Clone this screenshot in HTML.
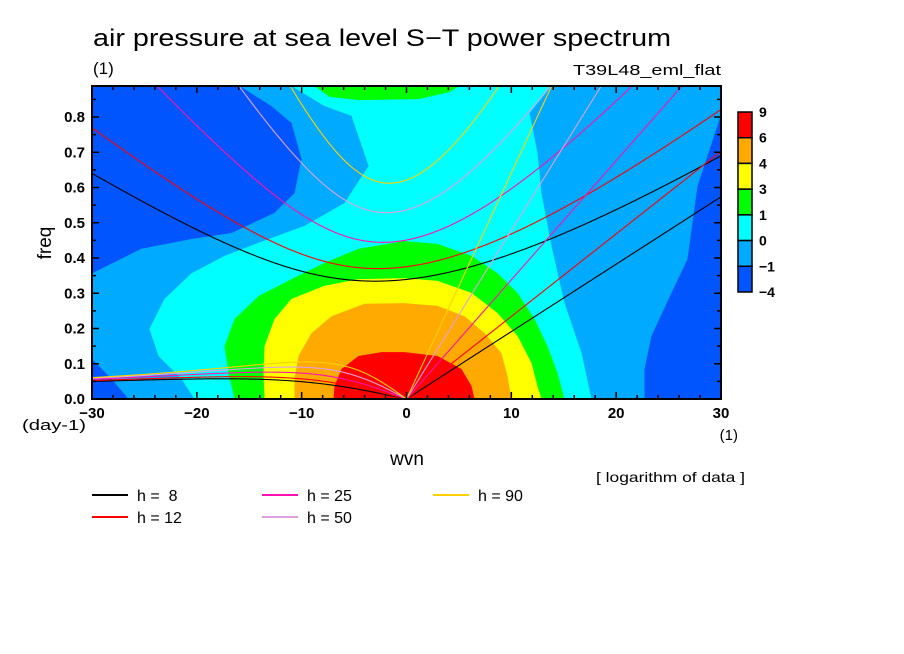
<!DOCTYPE html>
<html><head><meta charset="utf-8"><style>
body{margin:0;background:#fff}
svg{display:block;font-family:"Liberation Sans",sans-serif}
</style></head><body>
<svg id="chart" width="904" height="654" viewBox="0 0 904 654" xmlns="http://www.w3.org/2000/svg">
<rect width="904" height="654" fill="#fff"/>
<text x="93" y="46" font-size="24" textLength="578" lengthAdjust="spacingAndGlyphs">air pressure at sea level S−T power spectrum</text>
<text x="93" y="74" font-size="17">(1)</text>
<text x="721" y="75" font-size="15" text-anchor="end" textLength="148" lengthAdjust="spacingAndGlyphs">T39L48_eml_flat</text>
<g id="plot"></g>
<g id="axes"></g>
<text x="45" y="243" font-size="19" text-anchor="middle" transform="rotate(-90 45 243)" dy="6">freq</text>
<text x="22" y="430" font-size="15" textLength="64" lengthAdjust="spacingAndGlyphs">(day-1)</text>
<text x="738" y="440" font-size="15" text-anchor="end">(1)</text>
<text x="407" y="465" font-size="19" text-anchor="middle">wvn</text>
<text x="745" y="482" font-size="14" text-anchor="end" textLength="149" lengthAdjust="spacingAndGlyphs">[ logarithm of data ]</text>
<g id="legend"></g>
<g id="cbar"></g>
</svg>
<script>
const NS="http://www.w3.org/2000/svg";
// ---- data ----
const xTicks=[-30,-20,-10,0,10,20,30];
const yTicks=[0.0,0.1,0.2,0.3,0.4,0.5,0.6,0.7,0.8];
const depths=[8,12,25,50,90];
const depthColors=["#000000","#ff0000","#ff10b0","#e0a0e0","#ffd000"];
const levelLabels=["9","6","4","3","1","0","−1","−4"];
const levelColors=["#ff0000","#ffaa00","#ffff00","#00ff00","#00ffff","#00aaff","#0055ff"];
// contour regions [wvn,freq]
const darkUpperLeft=[[-30,0.888],[-15.93,0.888],[-12.88,0.831],[-10.97,0.783],[-10.02,0.681],[-10.68,0.584],[-12.59,0.528],[-16.69,0.471],[-20.51,0.454],[-25.28,0.426],[-30,0.357]];
const darkLowerLeft=[[-30,0.113],[-28.14,0.057],[-26.52,0],[-30,0]];
const darkRight=[[30,0.806],[27.76,0.604],[26.8,0.397],[25.28,0.301],[23.37,0.179],[22.7,0.085],[22.7,0],[30,0]];
const cyanRegion=[[-10.97,0.888],[13.83,0.888],[11.73,0.811],[12.5,0.698],[12.88,0.584],[13.83,0.434],[15.07,0.272],[16.7,0.130],[17.65,0],[-20.22,0],[-21.46,0.057],[-23.66,0.122],[-24.52,0.199],[-23.08,0.284],[-20.51,0.357],[-17.36,0.406],[-14.12,0.443],[-9.73,0.491],[-5.91,0.556],[-3.62,0.661],[-5.25,0.803],[-7.82,0.831]];
const greenTop=[[-8.78,0.888],[-7.35,0.857],[-4.48,0.848],[1.24,0.851],[4.1,0.871],[5.06,0.888]];
const greenRegion=[[-16.41,0],[-16.98,0.074],[-17.36,0.150],[-16.41,0.227],[-14.12,0.292],[-10.97,0.340],[-7.82,0.386],[-4.58,0.426],[-0.19,0.448],[2.96,0.440],[6.2,0.406],[8.68,0.357],[10.59,0.301],[12.21,0.227],[13.45,0.150],[14.4,0.074],[15.07,0]];
const yellowRegion=[[-13.55,0],[-13.64,0.074],[-13.55,0.150],[-12.59,0.227],[-10.97,0.284],[-7.82,0.321],[-4.58,0.340],[-0.19,0.343],[2.96,0.335],[6.2,0.301],[8.68,0.244],[10.59,0.179],[11.92,0.102],[12.5,0.037],[12.88,0]];
const orangeRegion=[[-10.68,0],[-10.68,0.057],[-10.3,0.122],[-9.06,0.187],[-7.15,0.235],[-4.01,0.270],[-0.19,0.272],[2.96,0.264],[5.53,0.235],[7.44,0.187],[9.06,0.130],[9.63,0.065],[10.02,0]];
const redRegion=[[-6.96,0],[-6.87,0.037],[-6.2,0.085],[-4.58,0.122],[-2.38,0.133],[-0.19,0.133],[2.96,0.122],[5.25,0.085],[6.2,0.037],[6.49,0]];

const X0=92,X1=721,Y0=399,Y1=86,XMIN=-30,XMAX=30,YMAX=(399-86)/352.5;
const sx=v=>X0+(v-XMIN)/(XMAX-XMIN)*(X1-X0);
const sy=v=>Y0-v/YMAX*(Y0-Y1);
const plot=document.getElementById('plot');
const axes=document.getElementById('axes');
function mk(tag,attrs,parent){const e=document.createElementNS(NS,tag);for(const k in attrs)e.setAttribute(k,attrs[k]);parent.appendChild(e);return e;}

const defs=mk('defs',{},plot);
const cp=mk('clipPath',{id:'pc'},defs);
mk('rect',{x:X0,y:Y1,width:X1-X0,height:Y0-Y1},cp);
const g=mk('g',{'clip-path':'url(#pc)'},plot);

const bg=mk('rect',{x:X0,y:Y1,width:X1-X0,height:Y0-Y1,fill:levelColors[5]},g);


function poly(pts,fill,name){
  const p=mk('polygon',{points:pts.map(q=>sx(q[0]).toFixed(1)+','+sy(q[1]).toFixed(1)).join(' '),fill:fill},g);
  
  
}
poly(darkUpperLeft,levelColors[6],'region-below-minus1-upper-left');
poly(darkLowerLeft,levelColors[6],'region-below-minus1-lower-left');
poly(darkRight,levelColors[6],'region-below-minus1-right');
poly(cyanRegion,levelColors[4],'region-0-to-1');
poly(greenTop,levelColors[3],'region-1-to-3-top');
poly(greenRegion,levelColors[3],'region-1-to-3');
poly(yellowRegion,levelColors[2],'region-3-to-4');
poly(orangeRegion,levelColors[1],'region-4-to-6');
poly(redRegion,levelColors[0],'region-6-to-9');

const a=6.371e6,beta=2*7.292e-5/a,gr=9.81;
function roots(s,c){
  const k=s/a,A=c*c*k*k+3*beta*c,q=-beta*k*c*c,p=-A;
  const m=2*Math.sqrt(-p/3);
  let arg=3*q/(2*p)*Math.sqrt(-3/p);arg=Math.max(-1,Math.min(1,arg));
  const th=Math.acos(arg)/3;
  const r=[0,1,2].map(j=>m*Math.cos(th-2*Math.PI*j/3)).sort((u,v)=>v-u);
  return r.map(w=>w*86400/(2*Math.PI));
}
function line(pts,col,name){
  const p=mk('polyline',{points:pts.map(q=>sx(q[0]).toFixed(2)+','+sy(q[1]).toFixed(2)).join(' '),fill:'none',stroke:col,'stroke-width':1.1},g);
  
  
}
depths.forEach((h,i)=>{
  const c=Math.sqrt(gr*h);
  const ig=[],er=[],kv=[];
  for(let n=-300;n<=300;n++){
    const s=n/10,r=roots(s,c);
    ig.push([s,r[0]]);
    if(s<=0)er.push([s,Math.max(0,r[1])]);
    if(s>=0)kv.push([s,c*(s/a)*86400/(2*Math.PI)]);
  }
  line(ig,depthColors[i],'gravity-wave-curve-h'+h);
  line(er,depthColors[i],'rossby-wave-curve-h'+h);
  line(kv,depthColors[i],'kelvin-wave-curve-h'+h);
});

const fr=mk('rect',{x:X0,y:Y1,width:X1-X0,height:Y0-Y1,fill:'none',stroke:'#000','stroke-width':2},axes);


for(let v=-30;v<=30;v+=2){
  const L=(v%10===0)?7:4,x=sx(v);
  mk('line',{x1:x,y1:Y0,x2:x,y2:Y0-L,stroke:'#000','stroke-width':1.5},axes);
  mk('line',{x1:x,y1:Y1,x2:x,y2:Y1+L,stroke:'#000','stroke-width':1.5},axes);
}
for(let i=0;i<=17;i++){
  const v=i*0.05,L=(i%2===0)?7:4,y=sy(v);
  mk('line',{x1:X0,y1:y,x2:X0+L,y2:y,stroke:'#000','stroke-width':1.5},axes);
  mk('line',{x1:X1,y1:y,x2:X1-L,y2:y,stroke:'#000','stroke-width':1.5},axes);
}
xTicks.forEach(v=>{
  const t=mk('text',{x:sx(v),y:418,'font-size':15,'text-anchor':'middle','font-weight':'bold'},axes);
  t.textContent=v<0?'−'+Math.abs(v):String(v);
  
  
});
yTicks.forEach(v=>{
  const t=mk('text',{x:85,y:sy(v)+5,'font-size':15,'text-anchor':'end','font-weight':'bold'},axes);
  t.textContent=v.toFixed(1);
  
  
});

const leg=document.getElementById('legend');
const legPos=[[92,495],[92,517],[262,495],[262,517],[433,495]];
depths.forEach((h,i)=>{
  const [x,y]=legPos[i];
  const ln=mk('line',{x1:x,y1:y,x2:x+36,y2:y,stroke:depthColors[i],'stroke-width':2},leg);
  
  
  const t=mk('text',{x:x+45,y:y+6,'font-size':16,style:'white-space:pre'},leg);
  t.textContent='h = '+(h<10?' '+h:h);
  
  
});

const cb=document.getElementById('cbar');
const cbTop=112,cbH=180/7;
levelColors.forEach((col,i)=>{
  const r=mk('rect',{x:738,y:cbTop+i*cbH,width:14,height:cbH,fill:col,stroke:'#000','stroke-width':1.5},cb);
  
  
});
levelLabels.forEach((l,i)=>{
  const t=mk('text',{x:759,y:cbTop+i*cbH+5,'font-size':14,'font-weight':'bold'},cb);
  t.textContent=l;
  
  
});
</script>
</body></html>
